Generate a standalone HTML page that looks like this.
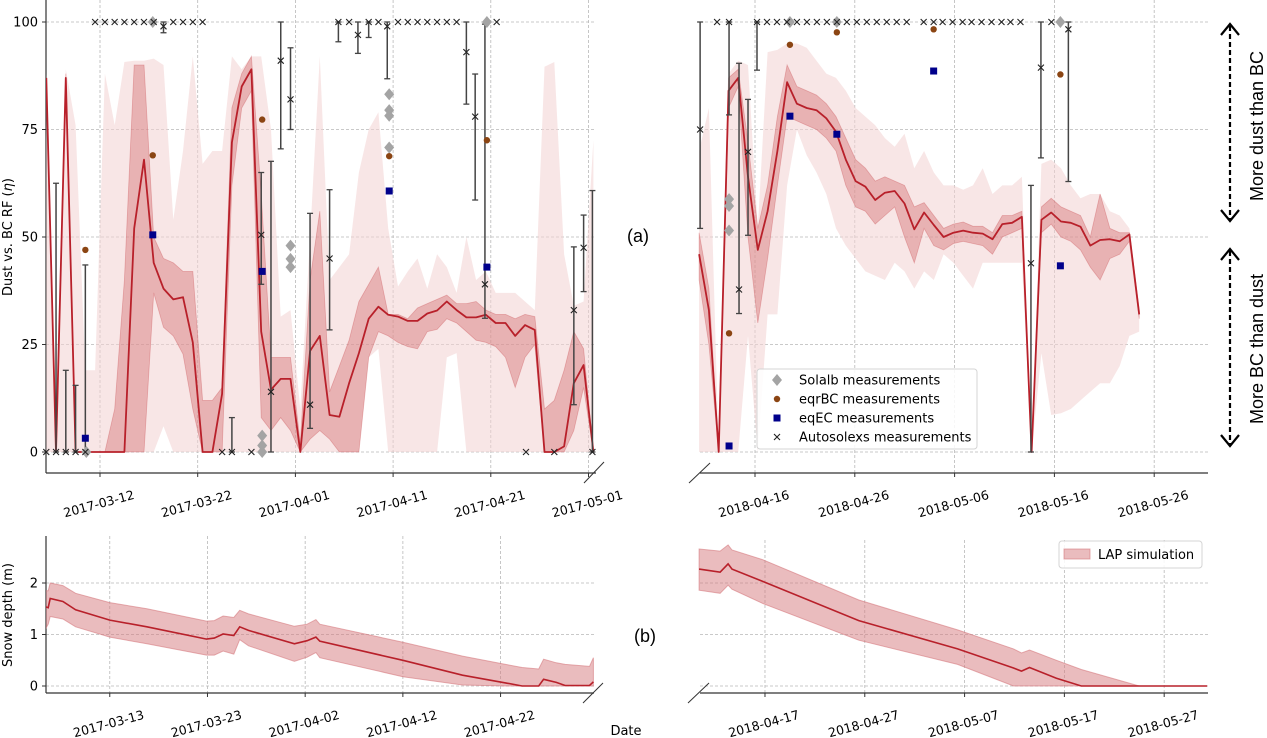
<!DOCTYPE html>
<html><head><meta charset="utf-8"><title>Dust vs BC RF</title>
<style>
html,body{margin:0;padding:0;background:#fff;}
svg{display:block;font-family:"DejaVu Sans","Liberation Sans",sans-serif;}
</style></head>
<body>
<svg id="fig" width="1267" height="738" viewBox="0 0 1267 738" xmlns="http://www.w3.org/2000/svg">
<defs>
<clipPath id="clipTL"><rect x="46" y="0" width="552" height="473"/></clipPath>
<clipPath id="clipTR"><rect x="698" y="0" width="512" height="473"/></clipPath>
<clipPath id="clipBL"><rect x="46" y="530" width="552" height="163"/></clipPath>
<clipPath id="clipBR"><rect x="698" y="530" width="512" height="163"/></clipPath>
</defs>
<text x="12" y="237" font-size="13" text-anchor="middle" transform="rotate(-90 12 237)">Dust vs. BC RF (<tspan font-style="italic">η</tspan>)</text>
<text x="12" y="615" font-size="13" text-anchor="middle" transform="rotate(-90 12 615)">Snow depth (m)</text>
<text x="638" y="242" font-size="18" text-anchor="middle" font-family="Liberation Sans, sans-serif">(a)</text>
<text x="645" y="642" font-size="18" text-anchor="middle" font-family="Liberation Sans, sans-serif">(b)</text>
<text x="626" y="735" font-size="13" text-anchor="middle">Date</text>
<g>
<line x1="1230" y1="26" x2="1230" y2="219" stroke="#000" stroke-width="2.2" stroke-dasharray="5,3"/>
<polyline points="1221,35 1230,24 1239,35" fill="none" stroke="#000" stroke-width="2.2"/>
<polyline points="1221,210 1230,221 1239,210" fill="none" stroke="#000" stroke-width="2.2"/>
<line x1="1230" y1="251" x2="1230" y2="444" stroke="#000" stroke-width="2.2" stroke-dasharray="5,3"/>
<polyline points="1221,260 1230,249 1239,260" fill="none" stroke="#000" stroke-width="2.2"/>
<polyline points="1221,435 1230,446 1239,435" fill="none" stroke="#000" stroke-width="2.2"/>
<text x="1263" y="126" font-size="18" font-family="Liberation Sans, sans-serif" text-anchor="middle" transform="rotate(-90 1263 126)">More dust than BC</text>
<text x="1263" y="349" font-size="18" font-family="Liberation Sans, sans-serif" text-anchor="middle" transform="rotate(-90 1263 349)">More BC than dust</text>
</g>
</svg>
<script>
// ---------- DATA ----------
// top-left (2017) simulation, daily, day offsets relative to 2017-03-12
const simL_start = -5.5;
const simL = [87,0,87,0,0,0,0,0,0,52,68,44,38,35.5,36,25.5,0,0,13.5,72,85,89,28,14.5,17,17,0,23.5,27,8.6,8.2,16,23,31,33.8,31.9,31.5,30.5,30.5,32.2,32.9,35,33,31.3,31.3,31.9,30,30,27,29.5,28.4,0,0,1.3,16,20.2,0];
const darkHiL = [87,0,88,0,0,0,0,10,40,90,90,50,45,44,42,42,12,12,15,80,88,92,60,22,22,22,2,40,56,14,20,26,35,39,43,32,32,31,33.5,34.5,35.5,36.5,34.5,34.5,35,33,32,32,31,32,31.5,10,12,19,28,24,0];
const darkLoL = [87,0,86,0,0,0,0,0,0,0,0,37,29,27,22.8,10,0,0,0,62,80,84,8,5,8,5,0,3,5,3,0,0,0,22,28,27,25.5,24.5,24,28,28.5,31,30,28,26,25.5,24.5,22,15,22,25,0,0,0,5,15,0];
const lightHiL = [88,10,89,76,19,19,88,76,90.7,91,91,91.5,90,54,70,92,67,70,70,92,89,92,92,75,31.5,33,10,50,92,40,43,46,65,75,79,52,38.5,42,45,38,46,43,37,50,40,42,37,37,37,35,33,89.6,90.7,46,34,35,72.5];
const lightLoL = [0,0,0,0,0,0,0,0,0,0,0,0,6,0,0,0,0,0,0,0,0,0,0,0,0,0,0,0,0,0,0,0,0,22,24,0,0,0,0,0,0,22,23,0,0,0,0,0,0,0,0,0,0,0,0,0,0];
// top-right (2018) simulation, day offsets relative to 2018-04-16
const simR_start = -5.6;
const simR_step = 0.98;
const simR = [46,33,0,84,87,64,47,56,70,86,81,80,79.5,77.6,74.5,68,63,61.7,58.6,60.3,60.7,57.8,51.8,55.7,52.8,50,51,51.5,51,50.8,49.5,53,53.3,54.7,0,54,55.7,53.6,53.3,52.4,48,49.3,49.5,49,50.6,32];
const darkHiR = [51,38,0,87,89,72,52,62,78,90,85,84,83,81,78,73,68,66,63,64,63,62,57,58,55,52,53,53.5,52.5,52.5,51,55,55,56,0,57,59,57,56,55,50,60,52,51,51,33];
const darkLoR = [40,25,0,80,85,50,30,45,62,78,77,76,75,73,70,62,57,56,53,55,57,50,44,52,48,47,48.5,49,48.5,48,46,50,51,52,0,51,53,50,49,47,43,40,45,46,49,31];
const lightHiR = [70,80,0,88,91,90,52,93,93.5,95,95,94,91,88,87,84,80,78,76,73,71,74,66,70,65,62,62,61,62,66,60,62,62,64,0,67,68,66,62,59,60,60,56,55,52,34];
const lightLoR = [0,0,0,0,0,27,0,32,32,62,75,69,65,60,52,48,45,42,41,40,44,42,38,42,40,46,44,41,38,44,44,44,44,44,0,23,8.6,9,10,12,14,16,16,20,27,28];

// measurements 2017 (days rel 2017-03-12)
const autoL_day = [-5.5,-4.5,-3.5,-2.5,-1.5,-0.5,0.5,1.5,2.5,3.5,4.5,5.5,6.5,7.5,8.5,9.5,10.5,12.5,13.5,15.5,16.5,17.5,18.5,19.5,21.5,23.5,24.4,25.5,26.4,27.5,28.5,29.4,30.5,31.5,32.5,33.5,34.5,35.5,36.5,37.5,38.4,39.4,40.6,43.6,46.5,48.5,49.5,50.4];
const autoL_val = [0,0,0,0,0,100,100,100,100,100,100,100,99,100,100,100,100,0,0,0,50.5,14,91,82,11,45,100,100,97,100,100,99,100,100,100,100,100,100,100,93,78,39,100,0,0,33,47.5,0];
const autoL_lo = [0,0,0,0,0,100,100,100,100,100,100,100,97.5,100,100,100,100,0,0,0,39,0,70.5,75,5.5,28.4,95.4,100,92.7,96.4,100,86.8,100,100,100,100,100,100,100,80.9,58.6,31.1,100,0,0,11,37.3,0];
const autoL_hi = [0,62.5,19,15.5,43.5,100,100,100,100,100,100,100,100,100,100,100,100,0,8,0,65,67.6,100,94,55.5,61,100,100,100,100,100,100,100,100,100,100,100,100,100,100,87.9,99.5,100,0,0,47.7,55.1,60.8];
const solL_day = [-1.4,5.4,16.6,16.6,16.6,19.5,19.5,19.5,29.6,29.6,29.6,29.6,39.6];
const solL_val = [0,100,0,1.5,3.8,48,44.9,43,83.2,79.5,78.2,70.8,100];
const bcL_day = [-1.5,5.4,16.6,29.6,39.6];
const bcL_val = [47,69,77.3,68.8,72.5];
const ecL_day = [-1.5,5.4,16.6,29.6,39.6];
const ecL_val = [3.2,50.5,42,60.7,43];

// measurements 2018 (days rel 2018-04-16)
const autoR_day = [-5.5,-3.8,-2.6,-1.6,-0.7,0.2,1.2,2.2,3.2,4.2,5.2,6.2,7.2,8.2,9.2,10.2,11.2,12.2,13.2,14.2,15.2,16.9,17.9,18.8,19.8,20.8,21.7,22.7,23.7,24.7,25.6,26.6,27.65,28.65,29.7,31.4];
const autoR_val = [75,100,100,37.8,69.8,100,100,100,100,100,100,100,100,100,100,100,100,100,100,100,100,100,100,100,100,100,100,100,100,100,100,100,43.9,89.4,100,98.3];
const autoR_lo = [52,100,78.4,32.2,50.4,88.8,100,100,100,100,100,100,100,100,100,100,100,100,100,100,100,100,100,100,100,100,100,100,100,100,100,100,0,68.4,100,62.9];
const autoR_hi = [100,100,100,90.4,82,100,100,100,100,100,100,100,100,100,100,100,100,100,100,100,100,100,100,100,100,100,100,100,100,100,100,100,62,100,100,100];
const solR_day = [-2.6,-2.6,-2.6,3.5,8.2,30.6];
const solR_val = [58.8,57.2,51.5,100,100,100];
const bcR_day = [-2.6,3.5,8.2,17.9,30.6];
const bcR_val = [27.6,94.7,97.6,98.3,87.8];
const ecR_day = [-2.6,3.5,8.2,17.9,30.6];
const ecR_val = [1.4,78.1,73.9,88.6,43.3];

// snow depth
const snowL_day = [-5.6,-5.3,-5.1,-3.8,-2.5,1,4.8,10.9,11.7,12.6,13.7,14.3,15.2,19.9,21.2,22.1,22.5,31,37.1,41.5,43.2,44.9,45.4,46.7,47.6,50.1,50.5];
const snowL_mid = [1.54,1.52,1.7,1.64,1.48,1.28,1.15,0.91,0.93,1.01,0.98,1.15,1.08,0.82,0.88,0.95,0.87,0.5,0.21,0.06,0,0,0.13,0.07,0.01,0.01,0.08];
const snowL_hi = [1.85,1.85,2.0,1.95,1.8,1.62,1.5,1.26,1.27,1.36,1.33,1.47,1.4,1.16,1.2,1.29,1.2,0.85,0.58,0.42,0.36,0.33,0.52,0.45,0.42,0.38,0.55];
const snowL_lo = [1.1,1.2,1.35,1.3,1.15,0.95,0.82,0.6,0.6,0.68,0.62,0.9,0.78,0.48,0.56,0.65,0.55,0.18,0.02,0,0,0,0,0,0,0,0];
const snowR_day = [-5.6,-3.5,-2.7,-2.3,0.8,10.4,20.3,25.9,26.7,27.5,30.2,32.7,38.5,45.3];
const snowR_mid = [2.27,2.21,2.37,2.27,2.03,1.27,0.72,0.35,0.29,0.36,0.15,0,0,0];
const snowR_hi = [2.66,2.62,2.74,2.64,2.45,1.67,1.09,0.72,0.64,0.7,0.5,0.32,0,0];
const snowR_lo = [1.86,1.8,1.96,1.88,1.6,0.89,0.42,0,0,0,0,0,0,0];

// ticks
const tickTL_day = [0,10,20,30,40,50];
const tickTL_lab = ['2017-03-12','2017-03-22','2017-04-01','2017-04-11','2017-04-21','2017-05-01'];
const tickTR_day = [0,10,20,30,40];
const tickTR_lab = ['2018-04-16','2018-04-26','2018-05-06','2018-05-16','2018-05-26'];
const tickBL_day = [1,11,21,31,41];
const tickBL_lab = ['2017-03-13','2017-03-23','2017-04-02','2017-04-12','2017-04-22'];
const tickBR_day = [1,11,21,31,41];
const tickBR_lab = ['2018-04-17','2018-04-27','2018-05-07','2018-05-17','2018-05-27'];
const yTickTop = [0,25,50,75,100];
const yTickBot = [0,1,2];

// ---------- DRAW ----------
const NS = 'http://www.w3.org/2000/svg';
const svg = document.getElementById('fig');
function mk(tag, attrs, parent){
  const e = document.createElementNS(NS, tag);
  for (const k in attrs) e.setAttribute(k, attrs[k]);
  (parent || svg).appendChild(e);
  return e;
}
const xL = d => 100 + d * 9.77;
const xR = d => 755 + d * 9.98;
const yT = v => 452 - v * 4.3;
const yB = v => 686 - v * 51.5;

function group(name, clip){
  const g = mk('g', clip ? {'clip-path':'url(#'+clip+')'} : {});
  
  
  return g;
}
function linePts(days, vals, xf, yf){
  return days.map((d,i)=> xf(d).toFixed(1)+','+yf(vals[i]).toFixed(1)).join(' ');
}
function bandPts(days, hi, lo, xf, yf){
  const a = days.map((d,i)=> xf(d).toFixed(1)+','+yf(hi[i]).toFixed(1));
  const b = days.map((d,i)=> xf(d).toFixed(1)+','+yf(lo[i]).toFixed(1)).reverse();
  return a.concat(b).join(' ');
}
function dash(g, x1,y1,x2,y2){
  mk('line',{x1,y1,x2,y2,stroke:'#b8b8b8','stroke-width':0.8,'stroke-dasharray':'3,2'},g);
}

// grids & axes
function axes(opt){
  const g = group(opt.name + '-axes');
  // grids
  opt.xt.forEach(d=>{ const x=opt.xf(d); dash(g,x,opt.top,x,opt.bottom); });
  opt.yt.forEach(v=>{ const y=opt.yf(v); dash(g,opt.left,y,opt.right,y); });
  // bottom spine
  mk('line',{x1:opt.left,y1:opt.bottom,x2:opt.right,y2:opt.bottom,stroke:'#333','stroke-width':1.2},g);
  if (opt.leftSpine){
    mk('line',{x1:opt.left,y1:opt.top,x2:opt.left,y2:opt.bottom,stroke:'#333','stroke-width':1.2},g);
    opt.yt.forEach(v=>{
      const y=opt.yf(v);
      mk('line',{x1:opt.left-4,y1:y,x2:opt.left,y2:y,stroke:'#333','stroke-width':1},g);
      const t = mk('text',{x:opt.left-8,y:y+4.5,'font-size':13,'text-anchor':'end'},g);
      t.textContent = String(v);
      
      
    });
  }
  opt.xt.forEach((d,i)=>{
    const x=opt.xf(d);
    mk('line',{x1:x,y1:opt.bottom,x2:x,y2:opt.bottom+4,stroke:'#333','stroke-width':1},g);
    const t = mk('text',{x:x,y:opt.labY,'font-size':12.5,'text-anchor':'middle',transform:'rotate(-15 '+x+' '+opt.labY+')'},g);
    t.textContent = opt.labs[i];
    
    
  });
  // break marks
  opt.breaks.forEach(b=>{ mk('line',{x1:b[0],y1:b[1],x2:b[2],y2:b[3],stroke:'#333','stroke-width':1},g); });
}
axes({name:'top-left',xf:xL,yf:yT,xt:tickTL_day,labs:tickTL_lab,yt:yTickTop,left:46,right:596,top:0,bottom:473,leftSpine:true,labY:508,breaks:[[584,483,604,462]]});
axes({name:'top-right',xf:xR,yf:yT,xt:tickTR_day,labs:tickTR_lab,yt:yTickTop,left:700,right:1208,top:0,bottom:473,leftSpine:false,labY:508,breaks:[[689,483,710,463]]});
axes({name:'bottom-left',xf:xL,yf:yB,xt:tickBL_day,labs:tickBL_lab,yt:yTickBot,left:46,right:594,top:536,bottom:693,leftSpine:true,labY:728,breaks:[[583,703,603,683]]});
axes({name:'bottom-right',xf:xR,yf:yB,xt:tickBR_day,labs:tickBR_lab,yt:yTickBot,left:700,right:1208,top:540,bottom:693,leftSpine:false,labY:728,breaks:[[688,703,709,683]]});

// simulations top
function simPanel(name, clip, start, step, sim, dHi, dLo, lHi, lLo, xf){
  const g = group(name, clip);
  const days = sim.map((_,i)=> start + i*step);
  const lb = mk('polygon',{points:bandPts(days,lHi,lLo,xf,yT),fill:'#f3d2d2','fill-opacity':0.55,stroke:'none'},g);
  
  
  const db = mk('polygon',{points:bandPts(days,dHi,dLo,xf,yT),fill:'#c8484d','fill-opacity':0.33,stroke:'#c8484d','stroke-opacity':0.35,'stroke-width':0.8},g);
  
  
  const ln = mk('polyline',{points:linePts(days,sim,xf,yT),fill:'none',stroke:'#b8202a','stroke-width':1.8,'stroke-linejoin':'round'},g);
  
  
}
simPanel('sim-2017','clipTL',simL_start,1,simL,darkHiL,darkLoL,lightHiL,lightLoL,xL);
simPanel('sim-2018','clipTR',simR_start,simR_step,simR,darkHiR,darkLoR,lightHiR,lightLoR,xR);

// measurements
function measurements(name, xf, aD, aV, aLo, aHi, sD, sV, bD, bV, eD, eV){
  const g = group(name);
  aD.forEach((d,i)=>{
    const x = xf(d);
    if (aHi[i]-aLo[i] > 0.5){
      const y1=yT(aHi[i]), y2=yT(aLo[i]);
      const eb = mk('g',{},g);
      
      
      mk('line',{x1:x,y1:y1,x2:x,y2:y2,stroke:'#444','stroke-width':1.5},eb);
      mk('line',{x1:x-3,y1:y1,x2:x+3,y2:y1,stroke:'#444','stroke-width':1.3},eb);
      mk('line',{x1:x-3,y1:y2,x2:x+3,y2:y2,stroke:'#444','stroke-width':1.3},eb);
    }
  });
  sD.forEach((d,i)=>{
    const x=xf(d), y=yT(sV[i]);
    const p = mk('polygon',{points:`${x},${y-6} ${x+5},${y} ${x},${y+6} ${x-5},${y}`,fill:'#a4a4a4'},g);
    
    
  });
  aD.forEach((d,i)=>{
    const x=xf(d), y=yT(aV[i]);
    const m = mk('path',{d:`M${x-3},${y-3}L${x+3},${y+3}M${x-3},${y+3}L${x+3},${y-3}`,stroke:'#222','stroke-width':1.1},g);
    
    
  });
  bD.forEach((d,i)=>{
    const c = mk('circle',{cx:xf(d),cy:yT(bV[i]),r:3.2,fill:'#8b4513'},g);
    
    
  });
  eD.forEach((d,i)=>{
    const r = mk('rect',{x:xf(d)-3.5,y:yT(eV[i])-3.5,width:7,height:7,fill:'#00008b'},g);
    
    
  });
}
measurements('measurements-2017',xL,autoL_day,autoL_val,autoL_lo,autoL_hi,solL_day,solL_val,bcL_day,bcL_val,ecL_day,ecL_val);
measurements('measurements-2018',xR,autoR_day,autoR_val,autoR_lo,autoR_hi,solR_day,solR_val,bcR_day,bcR_val,ecR_day,ecR_val);

// snow depth
function snowPanel(name, clip, days, mid, hi, lo, xf){
  const g = group(name, clip);
  const b = mk('polygon',{points:bandPts(days,hi,lo,xf,yB),fill:'#d6797e','fill-opacity':0.5,stroke:'#d6797e','stroke-opacity':0.6,'stroke-width':1},g);
  
  
  const l = mk('polyline',{points:linePts(days,mid,xf,yB),fill:'none',stroke:'#b8202a','stroke-width':1.6},g);
  
  
}
snowPanel('snow-2017','clipBL',snowL_day,snowL_mid,snowL_hi,snowL_lo,xL);
snowPanel('snow-2018','clipBR',snowR_day,snowR_mid,snowR_hi,snowR_lo,xR);

// legend top
(function(){
  const g = group('legend-measurements');
  mk('rect',{x:757,y:369,width:220,height:80,rx:3,fill:'#fff','fill-opacity':0.85,stroke:'#d4d4d4'},g);
  const rows = [['Solalb measurements','d'],['eqrBC measurements','c'],['eqEC measurements','s'],['Autosolexs measurements','x']];
  rows.forEach((r,i)=>{
    const y = 380 + i*19;
    const x = 777;
    if (r[1]==='d') mk('polygon',{points:`${x},${y-6} ${x+5},${y} ${x},${y+6} ${x-5},${y}`,fill:'#a4a4a4'},g);
    if (r[1]==='c') mk('circle',{cx:x,cy:y,r:3.2,fill:'#8b4513'},g);
    if (r[1]==='s') mk('rect',{x:x-3.5,y:y-3.5,width:7,height:7,fill:'#00008b'},g);
    if (r[1]==='x') mk('path',{d:`M${x-3},${y-3}L${x+3},${y+3}M${x-3},${y+3}L${x+3},${y-3}`,stroke:'#222','stroke-width':1.1},g);
    const t = mk('text',{x:799,y:y+4.5,'font-size':13},g);
    t.textContent = r[0];
    
    
  });
})();
// legend bottom
(function(){
  const g = group('legend-lap');
  mk('rect',{x:1059,y:541,width:143,height:27,rx:3,fill:'#fff','fill-opacity':0.85,stroke:'#d4d4d4'},g);
  mk('rect',{x:1064,y:549,width:26,height:10,fill:'#d6797e','fill-opacity':0.5,stroke:'#d6797e','stroke-opacity':0.6},g);
  const t = mk('text',{x:1098,y:559,'font-size':13},g);
  t.textContent = 'LAP simulation';
  
  
})();
</script>
</body></html>
